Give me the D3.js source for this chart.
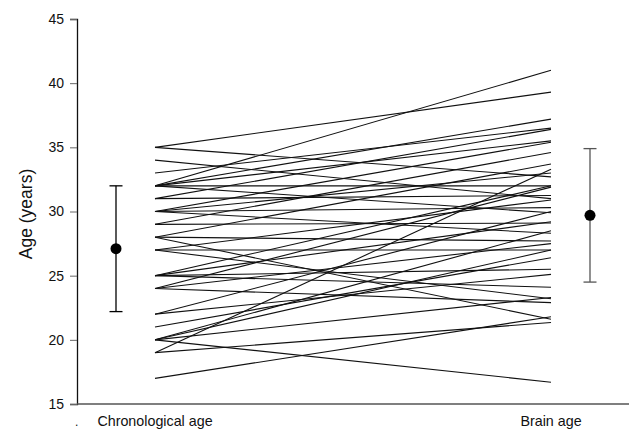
<!DOCTYPE html>
<html>
<head>
<meta charset="utf-8">
<script src="https://cdn.jsdelivr.net/npm/d3@7"></script>
<style>
  html, body { margin: 0; padding: 0; background: #fff; }
  svg text { font-family: "Liberation Sans", Arial, sans-serif; fill: #111; }
</style>
</head>
<body>
<div class="chart"></div>
<script>
// one row per subject: chronological age and predicted brain age
const groups = ["Chronological age", "Brain age"]
const chronoAge = [35, 35, 34, 33, 32, 32, 32, 32, 32, 31, 31, 30, 30, 30, 30, 29, 29, 28, 28, 28,
                   27, 27, 27, 25, 25, 25, 25, 24, 24, 24, 22, 22, 21, 20, 20, 20, 20, 19, 19, 17]
const brainAge  = [39.3, 32.7, 31.0, 36.5, 41.0, 37.2, 35.5, 32.0, 29.9, 36.4, 31.25, 35.4, 33.0, 30.3, 28.3, 34.6, 29.1, 33.7, 27.7, 21.6,
                   30.9, 27.0, 23.2, 32.0, 29.2, 25.5, 24.1, 31.9, 27.5, 22.9, 30.0, 25.1, 26.4, 28.5, 27.0, 16.7, 23.3, 33.3, 21.35, 21.8]
// mean and +/- SD as drawn on each side
const groupMean = [27.1, 29.7]
const groupLow  = [22.2, 24.5]
const groupHigh = [32.0, 34.9]
const yTicks = [15, 20, 25, 30, 35, 40, 45]

const width = 633, height = 430

const svg = d3.select(".chart")
  .append("svg")
    .attr("width", width)
    .attr("height", height)

const x = d3.scalePoint().domain(groups).range([155, 551])
const y = d3.scaleLinear().domain([15, 45]).range([404, 19])
const barOffset = [-39, 39]
const barColor = ["#000", "#555"]

// paired lines
svg.append("g")
  .selectAll("line")
  .data(d3.zip(chronoAge, brainAge))
  .enter()
  .append("line")
    .attr("x1", x(groups[0]))
    .attr("x2", x(groups[1]))
    .attr("y1", (d) => y(d[0]))
    .attr("y2", (d) => y(d[1]))
    .attr("stroke", "#111")
    .attr("stroke-width", 1.1)

// mean +/- SD bars
const bars = svg.append("g")
  .selectAll("g")
  .data(groups.map((g, i) => ({ g, i, mean: groupMean[i], lo: groupLow[i], hi: groupHigh[i] })))
  .enter()
  .append("g")
    .attr("transform", (d) => "translate(" + (x(d.g) + barOffset[d.i]) + ",0)")

bars.append("line")
  .attr("y1", (d) => y(d.lo)).attr("y2", (d) => y(d.hi))
  .attr("stroke", (d) => barColor[d.i]).attr("stroke-width", 1.3)
bars.selectAll(".cap")
  .data((d) => [[d.lo, d.i], [d.hi, d.i]])
  .enter()
  .append("line")
    .attr("class", "cap")
    .attr("x1", -6.5).attr("x2", 6.5)
    .attr("y1", (d) => y(d[0])).attr("y2", (d) => y(d[0]))
    .attr("stroke", (d) => barColor[d[1]]).attr("stroke-width", 1.3)
bars.append("circle")
  .attr("cy", (d) => y(d.mean))
  .attr("r", 5.5)
  .attr("fill", "#000")

// y axis
const yAxis = svg.append("g")
  .attr("transform", "translate(77,0)")
  .call(d3.axisLeft(y).tickValues(yTicks).tickSize(7).tickPadding(6).tickFormat(d3.format("d")))
yAxis.select(".domain").attr("stroke", "#111").attr("stroke-width", 1.3)
yAxis.selectAll(".tick line").attr("stroke", "#666")
yAxis.selectAll("text").style("font-size", "14px").attr("fill", "#111")

// x axis line, no ticks
svg.append("line")
  .attr("x1", 77).attr("x2", 629)
  .attr("y1", y(15)).attr("y2", y(15))
  .attr("stroke", "#555").attr("stroke-width", 1.6)

svg.append("g")
  .selectAll("text")
  .data(groups)
  .enter()
  .append("text")
    .attr("x", (d) => x(d))
    .attr("y", 426)
    .attr("text-anchor", "middle")
    .style("font-size", "14.3px")
    .text((d) => d)

svg.append("text")
  .attr("x", 75).attr("y", 426)
  .style("font-size", "12px")
  .attr("fill", "#aaa")
  .text(".")

svg.append("text")
  .attr("transform", "translate(32,214) rotate(-90)")
  .attr("text-anchor", "middle")
  .style("font-size", "17.5px")
  .text("Age (years)")
</script>
</body>
</html>
